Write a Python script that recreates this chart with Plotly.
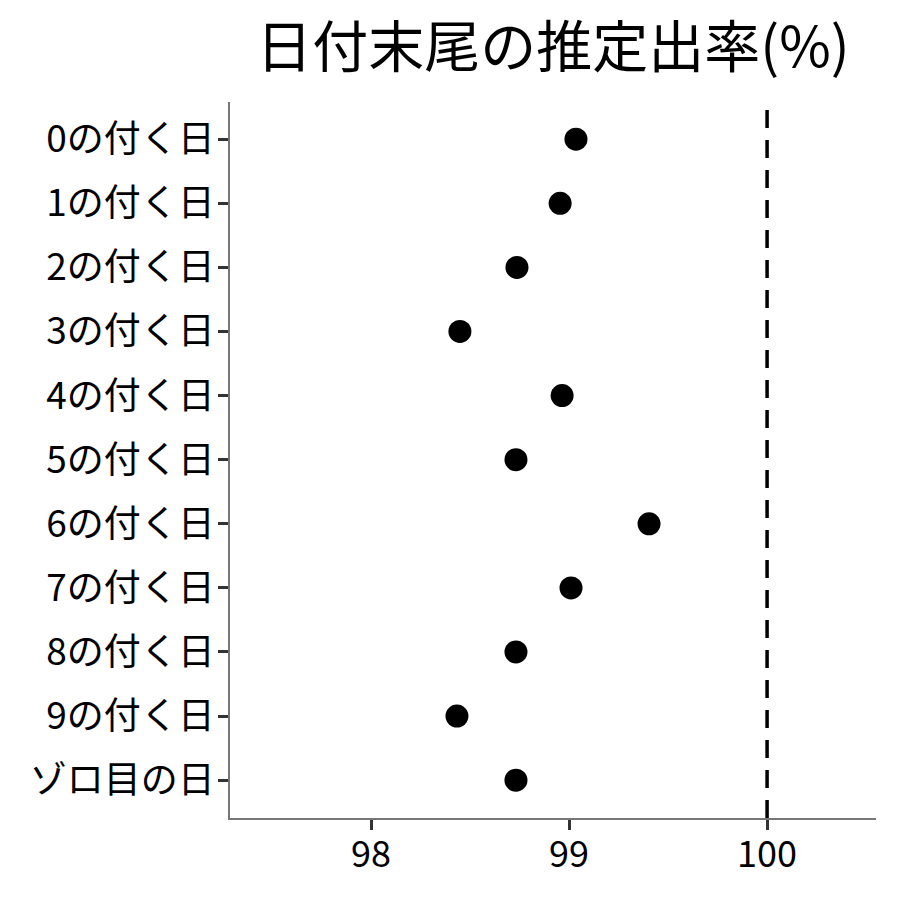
import plotly.graph_objects as go

categories = ["0の付く日", "1の付く日", "2の付く日", "3の付く日", "4の付く日", "5の付く日",
              "6の付く日", "7の付く日", "8の付く日", "9の付く日", "ゾロ目の日"]
rates = [99.035, 98.955, 98.737, 98.449, 98.965, 98.732, 99.404, 99.010, 98.732, 98.434, 98.732]
ref_value = 100
x_ticks = [98, 99, 100]

font_family = "Noto Sans CJK JP"

fig = go.Figure()
fig.add_trace(go.Scatter(
    x=rates, y=categories, mode="markers",
    marker=dict(color="black", size=23),
    showlegend=False, cliponaxis=False,
))
fig.add_shape(type="line", x0=ref_value, x1=ref_value, y0=0, y1=1, yref="paper", xref="x",
              line=dict(color="black", width=3.5, dash="18px,12px"))

fig.update_layout(
    width=900, height=900,
    paper_bgcolor="white", plot_bgcolor="white",
    margin=dict(l=222, r=32, t=94, b=90),
    font=dict(family=font_family, color="black"),
    title=dict(text="日付末尾の推定出率(%)", x=545 / 900, xanchor="center",
               y=1 - 39 / 900, yanchor="middle", font=dict(size=56, color="black")),
)
fig.update_xaxes(
    range=[97.288, 100.55], tickvals=x_ticks, ticktext=[str(v) for v in x_ticks],
    showgrid=False, zeroline=False, showline=True, linecolor="#777777", linewidth=1.5,
    ticks="outside", ticklen=10, tickwidth=3, tickcolor="#333333",
    tickfont=dict(size=36, color="black"), automargin=False, ticklabelstandoff=-6,
)
fig.update_yaxes(
    categoryorder="array", categoryarray=categories,
    range=[10.59, -0.58],
    showgrid=False, zeroline=False, showline=True, linecolor="#777777", linewidth=1.5,
    ticks="outside", ticklen=10, tickwidth=3, tickcolor="#333333",
    tickfont=dict(size=37, color="black"), automargin=False, ticklabelstandoff=-4,
)

fig.write_html("out.html")
